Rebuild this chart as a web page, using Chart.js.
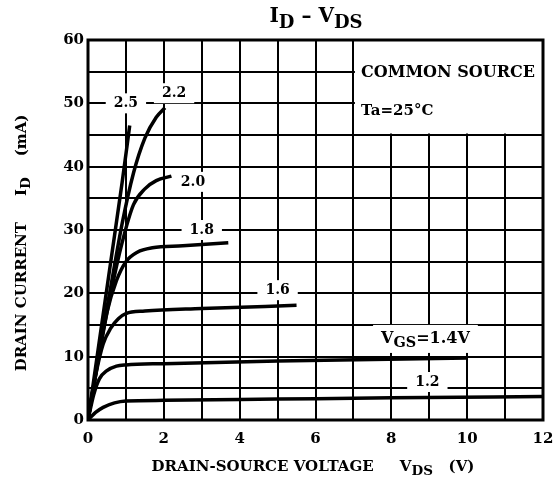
<!DOCTYPE html>
<html>
<head>
<meta charset="utf-8">
<script src="https://cdn.jsdelivr.net/npm/chart.js@4/dist/chart.umd.min.js"></script>
<style>
html, body { margin: 0; padding: 0; background: #fff; }
</style>
</head>
<body>
<canvas id="chart" width="555" height="484"></canvas>
<script>
// drain current curves, one per gate voltage (VDS in V, ID in mA)
const vds25 = [0, 0.3, 0.6, 0.9, 1.1];
const id25  = [0, 12.5, 25, 37.5, 46.5];
const vds22 = [0, 0.3, 0.6, 0.9, 1.2, 1.5, 1.8, 2.03];
const id22  = [0, 11, 21, 31, 39, 44.5, 47.8, 49.3];
const vds20 = [0, 0.3, 0.6, 0.9, 1.2, 1.5, 1.8, 2.2];
const id20  = [0, 10.5, 20, 28, 34, 36.5, 37.8, 38.5];
const vds18 = [0, 0.25, 0.5, 0.75, 1.0, 1.3, 1.7, 2.5, 3.7];
const id18  = [0, 9, 17, 22, 25, 26.5, 27.2, 27.5, 28];
const vds16 = [0, 0.2, 0.4, 0.6, 0.8, 1.0, 1.5, 3, 5.5];
const id16  = [0, 7, 12, 14.5, 16, 16.8, 17.2, 17.6, 18.1];
const vds14 = [0, 0.15, 0.3, 0.5, 0.75, 1, 2, 5, 10];
const id14  = [0, 4, 6.5, 7.8, 8.5, 8.7, 8.9, 9.3, 9.8];
const vds12 = [0, 0.2, 0.4, 0.7, 1, 2, 5, 8, 12];
const id12  = [0, 1.2, 2, 2.7, 3, 3.1, 3.3, 3.5, 3.7];

const xTickLabels = [0, 2, 4, 6, 8, 10, 12];
const yTickLabels = [0, 10, 20, 30, 40, 50, 60];

// curve labels and where they sit (in data units)
const curveLabels = ['2.5', '2.2', '2.0', '1.8', '1.6', 'VGS=1.4V', '1.2'];
const labelVds = [1.0, 2.27, 2.77, 3.0, 5.0, 8.9, 8.95];
const labelId  = [50, 51.6, 37.6, 30, 20.5, 12.8, 6.0];

const FONT = '"DejaVu Serif", "Liberation Serif", serif';

function toPoints(xs, ys) {
    return xs.map((v, i) => ({ x: v, y: ys[i] }));
}

function curve(xs, ys) {
    return {
        data: toPoints(xs, ys),
        showLine: true,
        borderColor: '#000',
        borderWidth: 3.5,
        pointRadius: 0,
        cubicInterpolationMode: 'monotone',
        fill: false
    };
}

// text with optional subscript parts, parts = [[text, isSub], ...]
function richWidth(ctx, parts, size) {
    let w = 0;
    parts.forEach(p => {
        ctx.font = 'bold ' + (p[1] ? size * 0.9 : size) + 'px ' + FONT;
        w += ctx.measureText(p[0]).width;
    });
    return w;
}

function drawRich(ctx, parts, cx, cy, size) {
    const w = richWidth(ctx, parts, size);
    let x = cx - w / 2;
    ctx.textAlign = 'left';
    ctx.textBaseline = 'middle';
    ctx.fillStyle = '#000';
    parts.forEach(p => {
        ctx.font = 'bold ' + (p[1] ? size * 0.9 : size) + 'px ' + FONT;
        ctx.fillText(p[0], x, p[1] ? cy + size * 0.3 : cy);
        x += ctx.measureText(p[0]).width;
    });
    return w;
}

function labelParts(txt) {
    if (txt.startsWith('VGS')) return [['V', false], ['GS', true], [txt.slice(3), false]];
    return [[txt, false]];
}

function labelSize(txt) {
    return txt.startsWith('VGS') ? 16 : 14;
}

const decor = {
    id: 'decor',
    beforeDatasetsDraw(chart) {
        const { ctx, scales: { x, y } } = chart;
        ctx.save();
        ctx.fillStyle = '#fff';
        // blank area for the note box
        const bx0 = x.getPixelForValue(7) + 1.5;
        const by0 = y.getPixelForValue(60);
        const bx1 = x.getPixelForValue(12);
        const by1 = y.getPixelForValue(45) - 1.5;
        ctx.fillRect(bx0, by0, bx1 - bx0, by1 - by0);
        // white gaps behind the curve labels
        curveLabels.forEach((t, i) => {
            const w = richWidth(ctx, labelParts(t), labelSize(t));
            const px = x.getPixelForValue(labelVds[i]);
            const py = y.getPixelForValue(labelId[i]);
            const pad = 8;
            const h = t.startsWith('VGS') ? 28 : 20;
            ctx.fillStyle = '#fff';
            ctx.fillRect(px - w / 2 - pad, py - h / 2, w + pad * 2, h);
        });
        ctx.restore();
    },
    afterDatasetsDraw(chart) {
        const { ctx, chartArea: a, scales: { x, y } } = chart;
        ctx.save();
        ctx.strokeStyle = '#000';
        ctx.lineWidth = 3;
        ctx.strokeRect(a.left, a.top, a.right - a.left, a.bottom - a.top);
        curveLabels.forEach((t, i) => {
            drawRich(ctx, labelParts(t), x.getPixelForValue(labelVds[i]), y.getPixelForValue(labelId[i]), labelSize(t));
        });
        // note box text
        ctx.fillStyle = '#000';
        ctx.textAlign = 'left';
        ctx.textBaseline = 'middle';
        ctx.font = 'bold 16px ' + FONT;
        ctx.fillText('COMMON SOURCE', x.getPixelForValue(7.2), y.getPixelForValue(54.8));
        ctx.font = 'bold 15px ' + FONT;
        ctx.fillText('Ta=25°C', x.getPixelForValue(7.2), y.getPixelForValue(48.7));
        ctx.restore();
    },
    afterDraw(chart) {
        const { ctx } = chart;
        ctx.save();
        drawRich(ctx, [['I', false], ['D', true], [' \u2013 V', false], ['DS', true]], 316, 17, 20);
        drawRich(ctx, [['DRAIN-SOURCE VOLTAGE     V', false], ['DS', true], ['   (V)', false]], 313, 467, 15);
        ctx.translate(22, 243);
        ctx.rotate(-Math.PI / 2);
        drawRich(ctx, [['DRAIN CURRENT     I', false], ['D', true], ['    (mA)', false]], 0, 0, 15);
        ctx.restore();
    }
};

new Chart(document.getElementById('chart'), {
    type: 'scatter',
    data: {
        datasets: [
            curve(vds25, id25),
            curve(vds22, id22),
            curve(vds20, id20),
            curve(vds18, id18),
            curve(vds16, id16),
            curve(vds14, id14),
            curve(vds12, id12)
        ]
    },
    options: {
        responsive: false,
        animation: false,
        devicePixelRatio: 1,
        layout: { padding: { top: 40, right: 12, left: 0, bottom: 0 } },
        plugins: { legend: { display: false }, tooltip: { enabled: false } },
        scales: {
            x: {
                type: 'linear',
                min: 0,
                max: 12,
                afterFit: s => { s.height = 64; s.paddingLeft = 0; s.paddingRight = 0; },
                grid: { color: '#000', lineWidth: 2, drawTicks: false },
                border: { display: false },
                ticks: {
                    stepSize: 1,
                    padding: 10,
                    autoSkip: false,
                    color: '#000',
                    maxRotation: 0,
                    font: { family: FONT, size: 15, weight: 'bold' },
                    callback: v => xTickLabels.includes(v) ? String(v) : ''
                }
            },
            y: {
                type: 'linear',
                min: 0,
                max: 60,
                afterFit: s => { s.width = 88; s.paddingTop = 0; s.paddingBottom = 0; },
                grid: { color: '#000', lineWidth: 2, drawTicks: false },
                border: { display: false },
                ticks: {
                    stepSize: 5,
                    padding: 4,
                    autoSkip: false,
                    color: '#000',
                    font: { family: FONT, size: 15, weight: 'bold' },
                    callback: v => yTickLabels.includes(v) ? String(v) : ''
                }
            }
        }
    },
    plugins: [decor]
});
</script>
</body>
</html>
